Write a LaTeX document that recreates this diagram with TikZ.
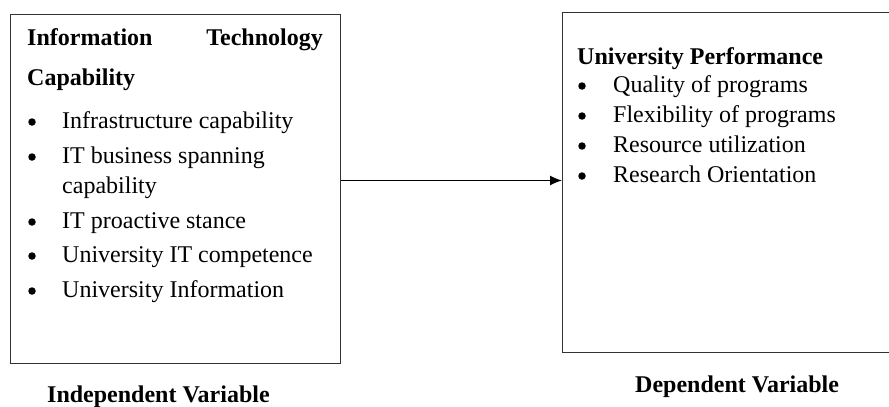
\documentclass[tikz,border=0pt]{standalone}
\usepackage{fontspec}
\setmainfont{Liberation Serif}
\usetikzlibrary{arrows.meta}
\begin{document}
\begin{tikzpicture}[x=1pt,y=-1pt,
  box/.style={draw=black!80,line width=1.4pt,minimum width=0pt,inner sep=0pt},
  txt/.style={anchor=base west,inner sep=0pt,font=\fontsize{24}{26}\selectfont},
  hd/.style={txt,font=\fontsize{24}{26}\selectfont\bfseries},
  bul/.style={anchor=center,inner sep=0pt,circle,fill=black,minimum size=7.5pt},
  conn/.style={line width=1.2pt,-{Latex[length=12pt,width=10pt]}}]
\useasboundingbox (0,0) rectangle (889,407);
% boxes
\node[box,minimum width=330pt,minimum height=349pt,anchor=north west] (lbox) at (10,14) {};
\node[box,minimum width=332pt,minimum height=340pt,anchor=north west] (rbox) at (562,11.5) {};
% left text
\node[hd] (h1a) at (27,45) {Information};
\node[hd,anchor=base east] (h1b) at (323,45) {Technology};
\node[hd] (h1c) at (27,85) {Capability};
\node[bul] (b1) at (32,122) {};
\node[txt] (t1) at (62,128) {Infrastructure capability};
\node[bul] (b2) at (32,157) {};
\node[txt] (t2) at (62,163) {IT business spanning};
\node[txt] (t2b) at (62,193) {capability};
\node[bul] (b3) at (32,222) {};
\node[txt] (t3) at (62,228) {IT proactive stance};
\node[bul] (b4) at (32,256) {};
\node[txt] (t4) at (62,262) {University IT competence};
\node[bul] (b5) at (32,291) {};
\node[txt] (t5) at (62,297) {University Information};
% right text
\node[hd] (h2) at (577,64) {University Performance};
\node[bul] (c1) at (582,86) {};
\node[txt] (u1) at (613,92) {Quality of programs};
\node[bul] (c2) at (582,116) {};
\node[txt] (u2) at (613,122) {Flexibility of programs};
\node[bul] (c3) at (582,146) {};
\node[txt] (u3) at (613,152) {Resource utilization};
\node[bul] (c4) at (582,176) {};
\node[txt] (u4) at (613,182) {Research Orientation};
% captions
\node[hd] (cap1) at (47,402) {Independent Variable};
\node[hd] (cap2) at (635,392) {Dependent Variable};
% connector
\draw[conn] (lbox.east |- 0,180.5) coordinate (a0) -- (rbox.west |- a0);
\end{tikzpicture}
\end{document}
